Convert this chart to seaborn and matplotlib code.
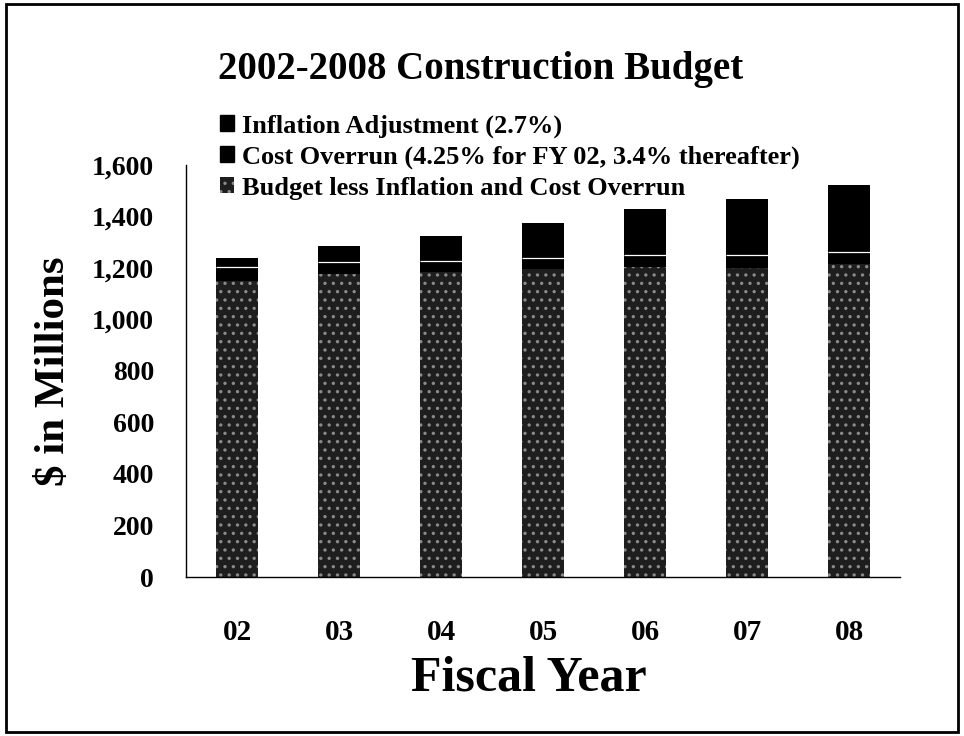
import numpy as np
import pandas as pd
import matplotlib
matplotlib.use("Agg")
import matplotlib.pyplot as plt
from matplotlib.patches import Patch, Rectangle
import seaborn as sns

# values ($ millions)
years = ["02", "03", "04", "05", "06", "07", "08"]
base = [1150, 1175, 1183, 1195, 1205, 1200, 1215]
overrun = [52, 46, 42, 43, 45, 50, 48]
inflation = [35, 64, 100, 136, 178, 217, 257]

labels = ["Inflation Adjustment (2.7%)",
          "Cost Overrun (4.25% for FY 02, 3.4% thereafter)",
          "Budget less Inflation and Cost Overrun"]

sns.set_style("white")
plt.rcParams['font.family'] = ['Liberation Serif', 'DejaVu Serif']
plt.rcParams['font.weight'] = 'bold'
plt.rcParams['text.color'] = 'black'
plt.rcParams['axes.labelcolor'] = 'black'
plt.rcParams['xtick.color'] = 'black'
plt.rcParams['ytick.color'] = 'black'
plt.rcParams['hatch.linewidth'] = 1.2

df = pd.DataFrame({"year": years, "base": base, "overrun": overrun, "inflation": inflation})
df["mid"] = df["base"] + df["overrun"]
df["total"] = df["mid"] + df["inflation"]

bar_w = 0.41
fig = plt.figure(figsize=(9.64, 7.36), dpi=100)
ax = fig.add_axes([0.193, 0.216, 0.741, 0.560])

# stacked bars drawn as overlapping cumulative bars
sns.barplot(data=df, x="year", y="total", color="black", saturation=1,
            width=bar_w, linewidth=0, ax=ax)
sns.barplot(data=df, x="year", y="mid", color="black", saturation=1,
            width=bar_w, linewidth=0, ax=ax)
sns.barplot(data=df, x="year", y="base", color="#1e1e1e", saturation=1,
            width=bar_w, edgecolor="#8a8a8a", linewidth=0, hatch="..", ax=ax)
# thin light boundary between overrun and inflation segments
xpos = np.arange(len(years))
ax.hlines(df["mid"], xpos - bar_w / 2, xpos + bar_w / 2, color="white", linewidth=0.9)

ax.set_ylim(0, 1600)
ax.set_xlim(-0.5, 6.5)
ax.set_yticks(np.arange(0, 1601, 200))
ax.set_yticklabels([f"{v:,}" for v in range(0, 1601, 200)])
ax.tick_params(axis="y", length=0, pad=23, labelsize=20)
ax.tick_params(axis="x", length=0, pad=30, labelsize=21)
for s in ["top", "right"]:
    ax.spines[s].set_visible(False)
for s in ["left", "bottom"]:
    ax.spines[s].set_color("black")
    ax.spines[s].set_linewidth(1)

ax.set_xlabel("Fiscal Year", fontsize=36, fontweight="bold")
ax.xaxis.set_label_coords(0.48, -0.19)
ax.set_ylabel("$ in Millions", fontsize=31, fontweight="bold", labelpad=14)

handles = [Patch(facecolor="black", edgecolor="black"),
           Patch(facecolor="black", edgecolor="black"),
           Patch(facecolor="#1e1e1e", edgecolor="#8a8a8a", hatch="..", linewidth=0)]
fig.legend(handles, labels, loc="upper left", bbox_to_anchor=(0.228, 0.845),
           frameon=False, fontsize=19, handlelength=0.55, handleheight=0.55,
           handletextpad=0.3, labelspacing=0.3, borderpad=0, borderaxespad=0)

fig.text(0.498, 0.905, "2002-2008 Construction Budget", ha="center", va="center",
         fontsize=28, fontweight="bold")

fig.patches.append(Rectangle((0.006, 0.006), 0.988, 0.988, transform=fig.transFigure,
                             fill=False, edgecolor="black", linewidth=2))

fig.savefig("out.png", dpi=100)
